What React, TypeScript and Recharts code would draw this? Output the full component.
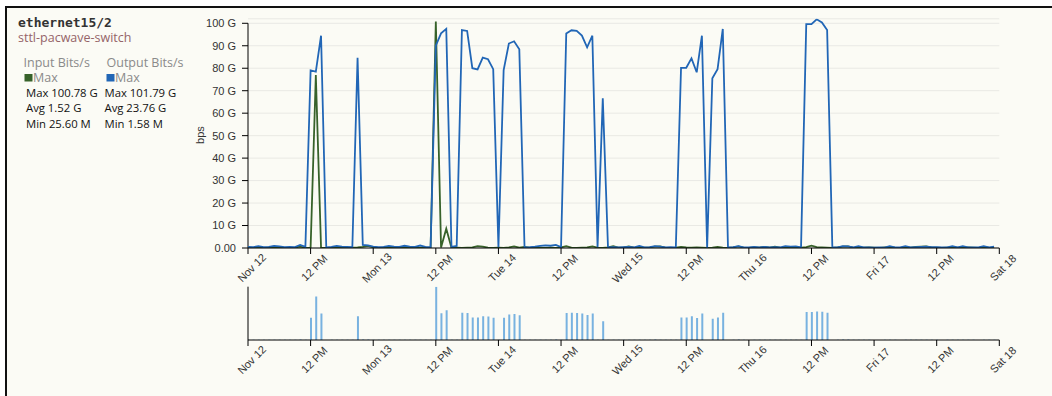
import React from 'react';
import { LineChart, Line, BarChart, Bar, XAxis, YAxis, CartesianGrid, ReferenceLine } from 'recharts';

// Hourly samples starting Nov 12 00:00, values in Gbit/s
const inputBits = [
  0.2, 0.1, 0.3, 0.1, 0.2, 0.1, 0.2, 0.1, 0.1, 0.2, 0.6, 0.1,
  0.2, 77.0, 0.1, 0.0256, 0.1, 0.2, 0.1, 0.1, 0.2, 0.3, 0.5, 0.9,
  0.3, 0.1, 0.2, 0.1, 0.2, 0.1, 0.2, 0.1, 0.2, 0.1, 0.2, 0.1,
  100.78, 0.2, 8.6, 0.1, 0.2, 0.1, 0.2, 0.3, 0.8, 0.6, 0.2, 0.1,
  0.2, 0.1, 0.3, 0.7, 0.2, 0.5, 0.2, 0.1, 0.2, 0.1, 0.2, 0.1,
  0.3, 0.8, 0.2, 0.1, 0.2, 0.3, 0.7, 0.2, 0.1, 0.3, 0.8, 0.2,
  0.3, 0.7, 0.2, 0.1, 0.2, 0.3, 0.6, 0.7, 0.2, 0.1, 0.2, 0.5,
  0.3, 0.2, 0.3, 0.2, 0.1, 0.2, 0.5, 0.2, 0.1, 0.3, 0.7, 0.2,
  0.1, 0.3, 0.2, 0.5, 0.2, 0.6, 0.2, 0.1, 0.2, 0.3, 0.2, 0.4,
  1.0, 0.4, 0.3, 0.2, 0.1, 0.3, 0.6, 0.7, 0.2, 0.1, 0.2, 0.3,
  0.2, 0.1, 0.3, 0.4, 0.2, 0.1, 0.4, 0.2, 0.5, 0.6, 0.7, 0.3,
  0.2, 0.1, 0.2, 0.3, 0.2, 0.1, 0.3, 0.2, 0.1, 0.5, 0.2, 0.1,
];

const outputBits = [
  0.5, 0.4, 0.8, 0.4, 0.5, 0.9, 0.7, 0.4, 0.5, 0.4, 1.4, 0.5,
  79.0, 78.5, 94.5, 0.3, 0.5, 0.9, 0.6, 0.5, 0.4, 84.7, 1.4, 1.2,
  0.6, 0.4, 0.5, 0.9, 0.6, 0.5, 1.0, 0.6, 0.5, 1.1, 0.5, 0.4,
  90.0, 95.5, 97.5, 0.5, 0.9, 97.0, 96.6, 80.0, 79.5, 84.7, 84.0, 79.6,
  0.3, 79.2, 91.0, 92.0, 88.4, 0.3, 0.4, 0.6, 0.9, 1.2, 1.0, 1.4,
  0.4, 95.5, 96.9, 96.6, 94.5, 89.3, 94.5, 0.3, 66.6, 0.3, 0.4, 0.3,
  0.4, 0.5, 0.3, 0.9, 0.3, 0.4, 0.8, 0.6, 0.3, 0.4, 0.3, 80.2,
  80.2, 84.4, 78.2, 94.5, 0.00158, 75.5, 79.6, 97.5, 0.3, 0.4, 0.8, 0.3,
  0.3, 0.5, 0.3, 0.5, 0.3, 0.4, 0.3, 0.8, 0.6, 0.7, 0.3, 99.6,
  99.6, 101.79, 100.4, 97.0, 0.3, 0.3, 0.8, 0.7, 0.3, 0.8, 0.3, 0.3,
  0.2, 0.3, 0.2, 0.8, 0.3, 0.3, 0.8, 0.3, 0.4, 0.5, 0.6, 0.4,
  0.4, 0.3, 0.3, 0.8, 0.3, 0.8, 0.3, 0.3, 0.3, 0.8, 0.3, 0.6,
];

const tickHours = [0, 12, 24, 36, 48, 60, 72, 84, 96, 108, 120, 132, 144];
const tickLabels = ['Nov 12', '12 PM', 'Mon 13', '12 PM', 'Tue 14', '12 PM', 'Wed 15', '12 PM', 'Thu 16', '12 PM', 'Fri 17', '12 PM', 'Sat 18'];

const yTicks = [0, 10, 20, 30, 40, 50, 60, 70, 80, 90, 100];
const yTickLabels = ['0.00', '10 G', '20 G', '30 G', '40 G', '50 G', '60 G', '70 G', '80 G', '90 G', '100 G'];

const statsIn = ['Max 100.78 G', 'Avg 1.52 G', 'Min 25.60 M'];
const statsOut = ['Max 101.79 G', 'Avg 23.76 G', 'Min 1.58 M'];

const GREEN = '#37622a';
const BLUE = '#2166b6';
const BG = '#fbfbf5';
const FONT = '"Liberation Sans", Arial, sans-serif';
const SANS = '"Open Sans", sans-serif';

const rows = inputBits.map((v, i) => ({ t: i, input: v, output: outputBits[i], total: v + outputBits[i] }));
const maxTotal = Math.max(...rows.map((r) => r.total));

const AngledTick = (props: any) => {
  const { x, y, payload } = props;
  const label = tickLabels[tickHours.indexOf(payload.value)];
  return (
    <text
      transform={`translate(${x + 6.5},${y + 14.5}) rotate(-45)`}
      textAnchor="middle"
      fontSize={11}
      fontFamily={FONT}
      fill="#333"
    >
      {label}
    </text>
  );
};

const yFormat = (v: number) => yTickLabels[yTicks.indexOf(v)] ?? '';

export default function App() {
  return (
    <div style={{ position: 'absolute', left: 0, top: 0, width: 1052, height: 396, background: '#fff', overflow: 'hidden' }}>
      {/* frame */}
      <div
        style={{
          position: 'absolute', left: 5, top: 6, right: 0, bottom: 0,
          background: BG, borderTop: '2px solid #111', borderLeft: '2px solid #111',
        }}
      />

      {/* port title and series summary */}
      <svg width={240} height={140} style={{ position: 'absolute', left: 0, top: 0 }}>
        <text x={18} y={26.5} fontFamily='"DejaVu Sans Mono", monospace' fontWeight="bold" fontSize={13} fill="#333">ethernet15/2</text>
        <text x={18} y={41.5} fontFamily={SANS} fontSize={12.5} fill="#956468">sttl-pacwave-switch</text>

        <text x={23.5} y={66.5} fontFamily={SANS} fontSize={12.5} fill="#8a8a8a">Input Bits/s</text>
        <text x={106.5} y={66.5} fontFamily={SANS} fontSize={12.5} fill="#8a8a8a">Output Bits/s</text>

        <rect x={24.5} y={74} width={8} height={7.5} fill={GREEN} />
        <text x={33} y={81.7} fontFamily={SANS} fontSize={12.5} fill="#8a8a8a">Max</text>
        <rect x={106.5} y={74} width={8} height={7.5} fill={BLUE} />
        <text x={115} y={81.7} fontFamily={SANS} fontSize={12.5} fill="#8a8a8a">Max</text>

        {statsIn.map((s, i) => (
          <text key={`in${i}`} x={26} y={96.7 + i * 15.5} fontFamily={SANS} fontSize={11.3} fill="#111">{s}</text>
        ))}
        {statsOut.map((s, i) => (
          <text key={`out${i}`} x={104.5} y={96.7 + i * 15.5} fontFamily={SANS} fontSize={11.3} fill="#111">{s}</text>
        ))}
      </svg>

      {/* y axis title */}
      <svg width={20} height={40} style={{ position: 'absolute', left: 190, top: 115 }}>
        <text transform="translate(14,20) rotate(-90)" textAnchor="middle" fontSize={11} fontFamily={FONT} fill="#333">bps</text>
      </svg>

      {/* main traffic chart */}
      <div style={{ position: 'absolute', left: 0, top: 0 }}>
        <LineChart width={1052} height={396} data={rows} margin={{ top: 18.8, right: 52.7, bottom: 108, left: 0 }}>
          <CartesianGrid vertical={false} stroke="#e9e9e4" />
          <XAxis
            dataKey="t"
            type="number"
            domain={[0, 144]}
            allowDataOverflow
            ticks={tickHours}
            interval={0}
            tick={<AngledTick />}
            tickSize={6}
            tickMargin={2}
            height={40}
            stroke="#000"
          />
          <YAxis
            type="number"
            domain={[0, 102]}
            allowDataOverflow
            ticks={yTicks}
            interval={0}
            tickFormatter={yFormat}
            width={248}
            tickSize={6}
            tickMargin={6}
            axisLine={false}
            stroke="#000"
            tick={{ fontSize: 11, fontFamily: FONT, fill: '#333' }}
          />
          <ReferenceLine segment={[{ x: 0, y: 0 }, { x: 0, y: 100 }]} stroke="#000" />
          <Line type="linear" dataKey="input" stroke={GREEN} strokeWidth={1.8} dot={false} isAnimationActive={false} />
          <Line type="linear" dataKey="output" stroke={BLUE} strokeWidth={1.8} dot={false} isAnimationActive={false} />
        </LineChart>
      </div>

      {/* overview strip: combined input + output */}
      <div style={{ position: 'absolute', left: 0, top: 0 }}>
        <BarChart width={1052} height={396} data={rows} margin={{ top: 286.7, right: 52.7, bottom: 16, left: 0 }}>
          <XAxis
            dataKey="t"
            type="number"
            domain={[0, 144]}
            allowDataOverflow
            ticks={tickHours}
            interval={0}
            tick={<AngledTick />}
            tickSize={6}
            tickMargin={2}
            height={40}
            stroke="#000"
          />
          <YAxis
            type="number"
            domain={[0, maxTotal]}
            allowDataOverflow
            ticks={[0, maxTotal]}
            interval={0}
            tick={false}
            width={248}
            tickSize={6}
            stroke="#000"
          />
          <Bar dataKey="total" fill="#78b2e0" barSize={2} isAnimationActive={false} />
        </BarChart>
      </div>
    </div>
  );
}
